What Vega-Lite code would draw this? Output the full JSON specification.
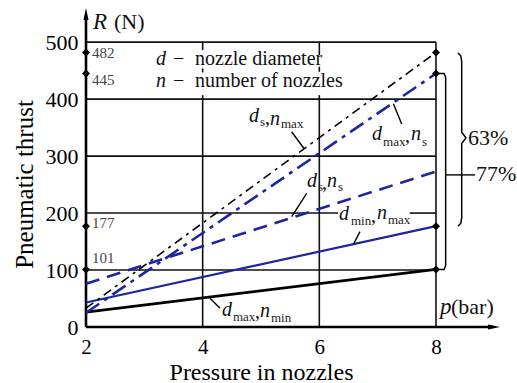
{
  "$schema": "https://vega.github.io/schema/vega-lite/v6.json",
  "width": 431,
  "height": 327,
  "autosize": {"type": "none"},
  "padding": {"left": 86, "top": 0, "right": 0, "bottom": 56},
  "background": "white",
  "config": {"view": {"stroke": null}, "font": "Liberation Serif, DejaVu Serif, serif"},
  "datasets": {
    "curves": [
      {"series": "ds_nmax", "x": 2, "y": 33}, {"series": "ds_nmax", "x": 8, "y": 482},
      {"series": "dmax_ns", "x": 2, "y": 25}, {"series": "dmax_ns", "x": 8, "y": 445},
      {"series": "ds_ns", "x": 2, "y": 76}, {"series": "ds_ns", "x": 8, "y": 273},
      {"series": "dmin_nmax", "x": 2, "y": 43}, {"series": "dmin_nmax", "x": 8, "y": 177},
      {"series": "dmax_nmin", "x": 2, "y": 26}, {"series": "dmax_nmin", "x": 8, "y": 101}
    ],
    "grid": [
      {"x": 2, "y": 100, "x2": 8, "y2": 100},
      {"x": 2, "y": 200, "x2": 6.32, "y2": 200},
      {"x": 7.55, "y": 200, "x2": 8, "y2": 200},
      {"x": 2, "y": 300, "x2": 8, "y2": 300},
      {"x": 2, "y": 400, "x2": 8, "y2": 400},
      {"x": 2, "y": 500, "x2": 8, "y2": 500},
      {"x": 4, "y": 0, "x2": 4, "y2": 407},
      {"x": 4, "y": 447, "x2": 4, "y2": 454},
      {"x": 4, "y": 486, "x2": 4, "y2": 500},
      {"x": 6, "y": 0, "x2": 6, "y2": 407},
      {"x": 6, "y": 448, "x2": 6, "y2": 457},
      {"x": 6, "y": 477, "x2": 6, "y2": 500},
      {"x": 8, "y": 0, "x2": 8, "y2": 500}
    ],
    "axislines": [
      {"x": 2, "y": 0, "x2": 2, "y2": 547},
      {"x": 2, "y": 0, "x2": 8.97, "y2": 0}
    ],
    "arrowUp": [{"x": 2, "y": 549.4}],
    "arrowRight": [{"x": 8.995, "y": 0}],
    "leaders": [
      {"x": 5.526, "y": 342.8, "x2": 5.743, "y2": 312.5},
      {"x": 7.27, "y": 392, "x2": 7.412, "y2": 356.3},
      {"x": 5.783, "y": 234.7, "x2": 5.526, "y2": 193.6},
      {"x": 6.697, "y": 167.3, "x2": 6.59, "y2": 146},
      {"x": 4.126, "y": 50.4, "x2": 4.297, "y2": 32.8},
      {"x": 8.166, "y": 267, "x2": 8.67, "y2": 267}
    ],
    "braces": [
      {"b": "63", "i": 1, "x": 8.377, "y": 481},
      {"b": "63", "i": 2, "x": 8.425, "y": 476},
      {"b": "63", "i": 3, "x": 8.441, "y": 466},
      {"b": "63", "i": 4, "x": 8.441, "y": 342},
      {"b": "63", "i": 5, "x": 8.514, "y": 332},
      {"b": "63", "i": 6, "x": 8.441, "y": 322},
      {"b": "63", "i": 7, "x": 8.441, "y": 192},
      {"b": "63", "i": 8, "x": 8.425, "y": 182},
      {"b": "63", "i": 9, "x": 8.377, "y": 177},
      {"b": "77", "i": 1, "x": 8.0, "y": 445},
      {"b": "77", "i": 2, "x": 8.14, "y": 445},
      {"b": "77", "i": 3, "x": 8.166, "y": 438},
      {"b": "77", "i": 4, "x": 8.166, "y": 108},
      {"b": "77", "i": 5, "x": 8.14, "y": 101},
      {"b": "77", "i": 6, "x": 8.0, "y": 101}
    ],
    "markers": [
      {"x": 2, "y": 482}, {"x": 2, "y": 445}, {"x": 2, "y": 177}, {"x": 2, "y": 101},
      {"x": 8, "y": 482}, {"x": 8, "y": 445}, {"x": 8, "y": 177}, {"x": 8, "y": 101}
    ],
    "markerValues": [
      {"x": 2.103, "y": 481, "t": "482"},
      {"x": 2.103, "y": 433.6, "t": "445"},
      {"x": 2.103, "y": 182.6, "t": "177"},
      {"x": 2.103, "y": 121, "t": "101"}
    ],
    "italic": [
      {"x": 4.794, "y": 359.9, "t": "d"}, {"x": 5.154, "y": 354.6, "t": "n"},
      {"x": 6.903, "y": 328.3, "t": "d"}, {"x": 7.572, "y": 328.3, "t": "n"},
      {"x": 5.789, "y": 245.8, "t": "d"}, {"x": 6.131, "y": 245.8, "t": "n"},
      {"x": 6.337, "y": 187.8, "t": "d"}, {"x": 6.989, "y": 189.6, "t": "n"},
      {"x": 4.331, "y": 19.3, "t": "d"}, {"x": 4.983, "y": 17.6, "t": "n"},
      {"x": 3.2, "y": 459.9, "t": "d"}, {"x": 3.2, "y": 421.3, "t": "n"}
    ],
    "subs": [
      {"x": 4.983, "y": 352.8, "t": "s"}, {"x": 5.343, "y": 349.3, "t": "max"},
      {"x": 7.092, "y": 317.7, "t": "max"}, {"x": 7.76, "y": 317.7, "t": "s"},
      {"x": 5.977, "y": 238.7, "t": "s"}, {"x": 6.32, "y": 238.7, "t": "s"},
      {"x": 6.543, "y": 179.1, "t": "min"}, {"x": 7.177, "y": 180.8, "t": "max"},
      {"x": 4.52, "y": 10.5, "t": "max"}, {"x": 5.171, "y": 8.8, "t": "min"}
    ],
    "plain": [
      {"x": 5.069, "y": 356.3, "t": ","},
      {"x": 7.469, "y": 324.7, "t": ","},
      {"x": 6.046, "y": 242.2, "t": ","},
      {"x": 6.886, "y": 184.3, "t": ","},
      {"x": 4.897, "y": 15.8, "t": ","},
      {"x": 3.492, "y": 459.9, "t": "−"},
      {"x": 3.869, "y": 459.9, "t": "nozzle diameter"},
      {"x": 3.492, "y": 421.3, "t": "−"},
      {"x": 3.869, "y": 421.3, "t": "number of nozzles"}
    ],
    "unitItalic": [
      {"x": 2.12, "y": 523.1, "t": "R"},
      {"x": 8.069, "y": 22.8, "t": "p"}
    ],
    "unitPlain": [
      {"x": 2.48, "y": 523.1, "t": "(N)"},
      {"x": 8.257, "y": 22.8, "t": "(bar)"},
      {"x": 8.549, "y": 319.5, "t": "63%"},
      {"x": 8.686, "y": 256.3, "t": "77%"}
    ]
  },
  "encoding": {
    "x": {
      "field": "x", "type": "quantitative",
      "scale": {"domain": [2, 9.389], "nice": false, "zero": false},
      "axis": {
        "values": [2, 4, 6, 8], "domain": false, "ticks": false, "grid": false,
        "labelFlush": false, "labelFont": "Liberation Serif, DejaVu Serif, serif", "labelFontSize": 21,
        "labelColor": "#000", "labelPadding": 9,
        "title": "Pressure in nozzles", "titleFont": "Liberation Serif, DejaVu Serif, serif",
        "titleFontSize": 24, "titleFontWeight": "normal", "titleColor": "#000",
        "titleX": 175, "titleY": 52, "titleAlign": "center", "titleBaseline": "alphabetic"
      }
    },
    "y": {
      "field": "y", "type": "quantitative",
      "scale": {"domain": [0, 574], "nice": false, "zero": false},
      "axis": {
        "values": [0, 100, 200, 300, 400, 500], "domain": false, "ticks": false, "grid": false,
        "labelFont": "Liberation Serif, DejaVu Serif, serif", "labelFontSize": 22, "labelColor": "#000",
        "labelPadding": 8,
        "title": "Pneumatic thrust", "titleFont": "Liberation Serif, DejaVu Serif, serif",
        "titleFontSize": 25, "titleFontWeight": "normal", "titleColor": "#000",
        "titleAngle": 270, "titleX": -54, "titleY": 184, "titleAlign": "center",
        "titleBaseline": "alphabetic"
      }
    }
  },
  "layer": [
    {
      "data": {"name": "grid"},
      "mark": {"type": "rule", "color": "#111", "strokeWidth": 1.6},
      "encoding": {"x2": {"field": "x2"}, "y2": {"field": "y2"}}
    },
    {
      "data": {"name": "axislines"},
      "mark": {"type": "rule", "color": "#000", "strokeWidth": 2.6},
      "encoding": {"x2": {"field": "x2"}, "y2": {"field": "y2"}}
    },
    {
      "data": {"name": "arrowUp"},
      "mark": {"type": "point", "shape": "M0,-1L0.42,1L-0.42,1Z", "size": 144, "filled": true, "color": "#000", "opacity": 1}
    },
    {
      "data": {"name": "arrowRight"},
      "mark": {"type": "point", "shape": "M1,0L-1,0.42L-1,-0.42Z", "size": 144, "filled": true, "color": "#000", "opacity": 1}
    },
    {
      "data": {"name": "curves"},
      "transform": [{"filter": {"field": "series", "equal": "dmax_nmin"}}],
      "mark": {"type": "line", "color": "#000", "strokeWidth": 2.8}
    },
    {
      "data": {"name": "curves"},
      "transform": [{"filter": {"field": "series", "equal": "dmin_nmax"}}],
      "mark": {"type": "line", "color": "#1c24a0", "strokeWidth": 2.2}
    },
    {
      "data": {"name": "curves"},
      "transform": [{"filter": {"field": "series", "equal": "ds_ns"}}],
      "mark": {"type": "line", "color": "#1c24a0", "strokeWidth": 2.6, "strokeDash": [14, 8]}
    },
    {
      "data": {"name": "curves"},
      "transform": [{"filter": {"field": "series", "equal": "dmax_ns"}}],
      "mark": {"type": "line", "color": "#1c24a0", "strokeWidth": 2.6, "strokeDash": [16, 6, 4, 6]}
    },
    {
      "data": {"name": "curves"},
      "transform": [{"filter": {"field": "series", "equal": "ds_nmax"}}],
      "mark": {"type": "line", "color": "#000", "strokeWidth": 1.6, "strokeDash": [9, 5, 3, 5]}
    },
    {
      "data": {"name": "leaders"},
      "mark": {"type": "rule", "color": "#000", "strokeWidth": 1.4},
      "encoding": {"x2": {"field": "x2"}, "y2": {"field": "y2"}}
    },
    {
      "data": {"name": "braces"},
      "mark": {"type": "line", "color": "#000", "strokeWidth": 1.5},
      "encoding": {"detail": {"field": "b"}, "order": {"field": "i", "type": "quantitative"}}
    },
    {
      "data": {"name": "markers"},
      "mark": {"type": "point", "shape": "diamond", "size": 64, "filled": true, "color": "#000", "opacity": 1}
    },
    {
      "data": {"name": "markerValues"},
      "mark": {"type": "text", "font": "Liberation Serif, DejaVu Serif, serif", "fontSize": 15, "color": "#444", "align": "left", "baseline": "middle"},
      "encoding": {"text": {"field": "t"}}
    },
    {
      "data": {"name": "italic"},
      "mark": {"type": "text", "font": "Liberation Serif, DejaVu Serif, serif", "fontStyle": "italic", "fontSize": 20, "color": "#111", "align": "left", "baseline": "alphabetic"},
      "encoding": {"text": {"field": "t"}}
    },
    {
      "data": {"name": "subs"},
      "mark": {"type": "text", "font": "Liberation Serif, DejaVu Serif, serif", "fontSize": 13, "color": "#222", "align": "left", "baseline": "alphabetic"},
      "encoding": {"text": {"field": "t"}}
    },
    {
      "data": {"name": "plain"},
      "mark": {"type": "text", "font": "Liberation Serif, DejaVu Serif, serif", "fontSize": 20, "color": "#111", "align": "left", "baseline": "alphabetic"},
      "encoding": {"text": {"field": "t"}}
    },
    {
      "data": {"name": "unitItalic"},
      "mark": {"type": "text", "font": "Liberation Serif, DejaVu Serif, serif", "fontStyle": "italic", "fontSize": 23, "color": "#111", "align": "left", "baseline": "alphabetic"},
      "encoding": {"text": {"field": "t"}}
    },
    {
      "data": {"name": "unitPlain"},
      "mark": {"type": "text", "font": "Liberation Serif, DejaVu Serif, serif", "fontSize": 22, "color": "#111", "align": "left", "baseline": "alphabetic"},
      "encoding": {"text": {"field": "t"}}
    }
  ]
}
